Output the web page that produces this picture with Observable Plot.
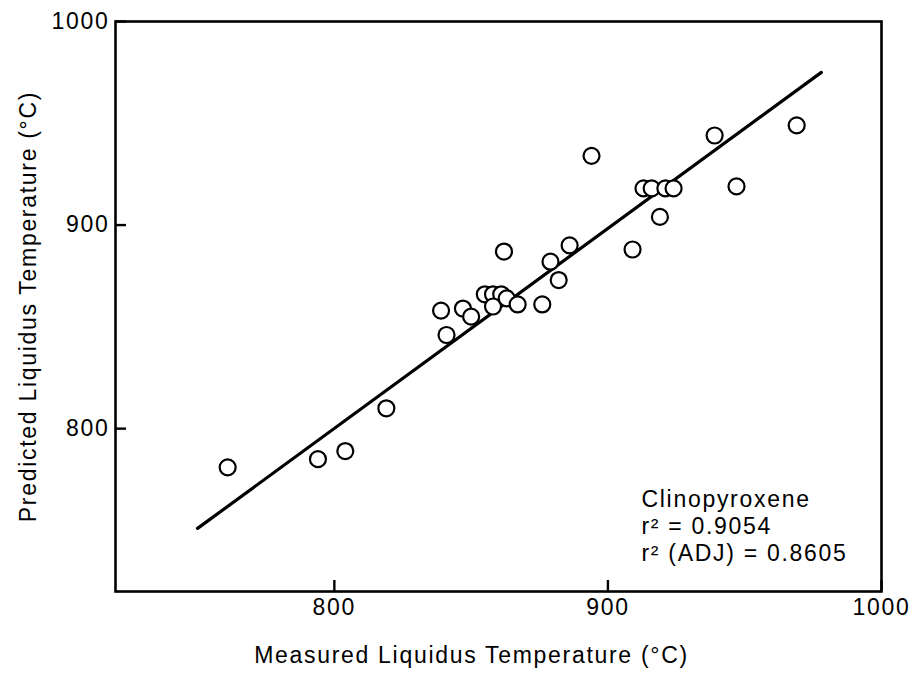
<!DOCTYPE html>
<html>
<head>
<meta charset="utf-8">
<script src="https://cdn.jsdelivr.net/npm/d3@7"></script>
<script src="https://cdn.jsdelivr.net/npm/@observablehq/plot@0.6"></script>
<style>
  html, body { margin: 0; padding: 0; background: #fff; }
  svg { font-family: "Liberation Sans", Arial, Helvetica, sans-serif; }
  svg text { letter-spacing: 1.7px; }
</style>
</head>
<body>
<div id="chart"></div>
<script>
// Clinopyroxene liquidus: measured vs. predicted temperature (°C)
const measured = [
  761, 794, 804, 819, 839, 841, 847, 850, 855, 858, 861, 858, 863, 867, 876,
  882, 862, 879, 886, 894, 909, 919, 913, 916, 921, 924, 939, 947, 969
];
const predicted = [
  781, 785, 789, 810, 858, 846, 859, 855, 866, 866, 866, 860, 864, 861, 861,
  873, 887, 882, 890, 934, 888, 904, 918, 918, 918, 918, 944, 919, 949
];

// Regression line end points
const fitMeasured = [750, 978];
const fitPredicted = [751, 975];

const xTicks = [800, 900, 1000];
const yTicks = [800, 900, 1000];

const xLabel = "Measured Liquidus Temperature (°C)";
const yLabel = "Predicted Liquidus Temperature (°C)";
const stats = ["Clinopyroxene", "r² = 0.9054", "r² (ADJ) = 0.8605"];

const points = measured.map((m, i) => ({m, p: predicted[i]}));
const fit = fitMeasured.map((m, i) => ({m, p: fitPredicted[i]}));

const W = 912, H = 673;
const mL = 115, mR = 31, mT = 21, mB = 82;
const xDomain = [720, 1000];
const yDomain = [720, 1000];
const tickLen = 11; // px

// tick length expressed in each scale's units
const xTickSpan = tickLen * (xDomain[1] - xDomain[0]) / (W - mL - mR);
const yTickSpan = tickLen * (yDomain[1] - yDomain[0]) / (H - mT - mB);

const chart = Plot.plot({
  width: W,
  height: H,
  marginLeft: mL,
  marginRight: mR,
  marginTop: mT,
  marginBottom: mB,
  style: {fontSize: "23px", color: "#000", background: "#fff"},
  x: {domain: xDomain},
  y: {domain: yDomain},
  marks: [
    // short inward ticks along the bottom and left edges of the frame
    Plot.ruleX(xTicks, {x: d => d, y1: yDomain[0], y2: yDomain[0] + yTickSpan, stroke: "#000", strokeWidth: 2.4}),
    Plot.ruleY(yTicks, {y: d => d, x1: xDomain[0], x2: xDomain[0] + xTickSpan, stroke: "#000", strokeWidth: 2.4}),
    // tick labels
    Plot.axisX({ticks: xTicks, tickSize: 0, tickPadding: 7, tickFormat: d => String(d), fontSize: 23, label: null}),
    Plot.axisY({ticks: yTicks, tickSize: 0, tickPadding: 6, tickFormat: d => String(d), fontSize: 23, label: null}),
    Plot.line(fit, {x: "m", y: "p", stroke: "#000", strokeWidth: 3.2}),
    Plot.dot(points, {x: "m", y: "p", r: 8, stroke: "#000", strokeWidth: 2.2, fill: "#fff"}),
    Plot.frame({stroke: "#000", strokeWidth: 2.6}),
    Plot.text([xLabel], {text: d => d, frameAnchor: "bottom", dx: -27, dy: 64,
      textAnchor: "middle", lineAnchor: "middle", fontSize: 23}),
    Plot.text([yLabel], {text: d => d, frameAnchor: "left", dx: -87, rotate: -90,
      textAnchor: "middle", lineAnchor: "middle", fontSize: 23}),
    Plot.text([stats.join("\n")], {text: d => d, frameAnchor: "bottom-right", dx: -240, dy: -31,
      textAnchor: "start", lineAnchor: "bottom", lineHeight: 1.17, fontSize: 23})
  ]
});

document.getElementById("chart").appendChild(chart);
</script>
</body>
</html>
